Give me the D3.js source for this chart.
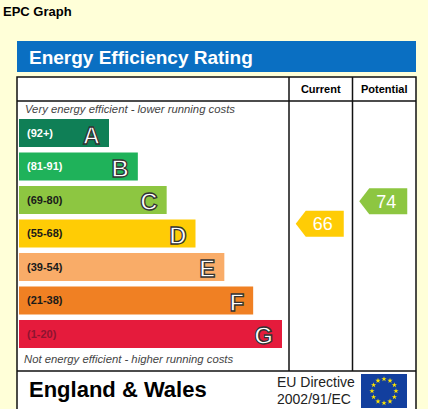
<!DOCTYPE html>
<html>
<head>
<meta charset="utf-8">
<script src="https://cdn.jsdelivr.net/npm/d3@7"></script>
<style>
  html, body { margin: 0; padding: 0; background: #ffffd8; }
  svg { display: block; font-family: Arial, "Liberation Sans", sans-serif; }
</style>
</head>
<body>
<div id="chart"></div>
<script>
const ratingBands = ['A', 'B', 'C', 'D', 'E', 'F', 'G'];
const bandLabels = ['(92+)', '(81-91)', '(69-80)', '(55-68)', '(39-54)', '(21-38)', '(1-20)'];
const bandMin = [92, 81, 69, 55, 39, 21, 1];
const bandMax = [100, 91, 80, 68, 54, 38, 20];
const columns = ['Current', 'Potential'];
const ratings = [66, 74];

const width = 428;
const height = 409;
const table = { left: 17, right: 416, top: 77, headBottom: 101, footTop: 371, colStart: 289 };

const svg = d3.select('#chart')
    .append('svg')
    .attr('width', width)
    .attr('height', height);

// scales
const yScale = d3.scaleBand()
    .domain(ratingBands)
    .range([119, 348])
    .paddingInner(0.164)
    .paddingOuter(0);

const barLength = d3.scaleLinear()
    .domain([0, ratingBands.length - 1])
    .range([90, 263]);

const colour = d3.scaleOrdinal()
    .domain(ratingBands)
    .range(['#0f7f56', '#1fb25a', '#8dc641', '#ffcc05', '#f9ac68', '#f08023', '#e51b3c']);

const labelColour = d3.scaleOrdinal()
    .domain(ratingBands)
    .range(['#ffffff', '#ffffff', '#1a1a1a', '#1a1a1a', '#1a1a1a', '#1a1a1a', '#8e1430']);

const xCol = d3.scaleBand()
    .domain(columns)
    .range([table.colStart, table.right]);

// title
svg.append('text')
    .attr('x', 3).attr('y', 16)
    .style('font-size', '13px').style('font-weight', 'bold')
    .text('EPC Graph');

svg.append('rect')
    .attr('x', table.left).attr('y', 41)
    .attr('width', table.right - table.left).attr('height', 31)
    .attr('fill', '#0a6fc2');

svg.append('text')
    .attr('x', 29).attr('y', 64)
    .attr('fill', '#fff')
    .style('font-size', '19px').style('font-weight', 'bold')
    .text('Energy Efficiency Rating');

// table frame
svg.append('rect')
    .attr('x', table.left).attr('y', table.top)
    .attr('width', table.right - table.left).attr('height', height + 5 - table.top)
    .attr('fill', '#fff')
    .attr('stroke', '#111').attr('stroke-width', 1.5);

svg.append('line')
    .attr('x1', table.left).attr('x2', table.right)
    .attr('y1', table.headBottom).attr('y2', table.headBottom)
    .attr('stroke', '#111').attr('stroke-width', 1.5);

svg.append('line')
    .attr('x1', table.left).attr('x2', table.right)
    .attr('y1', table.footTop).attr('y2', table.footTop)
    .attr('stroke', '#111').attr('stroke-width', 1.5);

svg.selectAll('.colline')
    .data(columns)
    .join('line')
    .attr('class', 'colline')
    .attr('x1', (d) => xCol(d)).attr('x2', (d) => xCol(d))
    .attr('y1', table.top).attr('y2', table.footTop)
    .attr('stroke', '#111').attr('stroke-width', 1.5);

svg.selectAll('.colhead')
    .data(columns)
    .join('text')
    .attr('class', 'colhead')
    .attr('x', (d) => xCol(d) + xCol.bandwidth() / 2)
    .attr('y', 93)
    .attr('text-anchor', 'middle')
    .style('font-size', '11px').style('font-weight', 'bold')
    .text((d) => d);

// italic captions
svg.append('text')
    .attr('x', 25).attr('y', 113)
    .attr('fill', '#444')
    .style('font-size', '11.3px').style('font-style', 'italic')
    .text('Very energy efficient - lower running costs');

svg.append('text')
    .attr('x', 24).attr('y', 363)
    .attr('fill', '#444')
    .style('font-size', '11.3px').style('font-style', 'italic')
    .text('Not energy efficient - higher running costs');

// bars
const bars = svg.append('g').attr('class', 'bars')
    .selectAll('g')
    .data(ratingBands)
    .join('g')
    .attr('transform', (d) => `translate(19, ${yScale(d)})`);

bars.append('rect')
    .attr('width', (d, i) => barLength(i))
    .attr('height', yScale.bandwidth())
    .attr('fill', (d) => colour(d));

bars.append('text')
    .attr('x', 8)
    .attr('y', yScale.bandwidth() / 2 + 4)
    .attr('fill', (d) => labelColour(d))
    .style('font-size', '11px').style('font-weight', 'bold')
    .text((d, i) => bandLabels[i]);

bars.append('text')
    .attr('x', (d, i) => barLength(i) - 9)
    .attr('y', yScale.bandwidth() / 2 + 10.5)
    .attr('text-anchor', 'end')
    .attr('fill', '#fff')
    .attr('stroke', '#333').attr('stroke-width', 1.3)
    .style('font-size', '24px').style('font-weight', 'bold')
    .text((d) => d);

// rating arrows
function bandOf(v) {
    return ratingBands.find((b, i) => v >= bandMin[i] && v <= bandMax[i]);
}

function arrowY(v) {
    const b = bandOf(v);
    const i = ratingBands.indexOf(b);
    const frac = (bandMax[i] - v) / (bandMax[i] - bandMin[i]);
    return yScale(b) + frac * yScale.bandwidth();
}

const arrowH = 26;
const arrows = svg.append('g').attr('class', 'arrows')
    .selectAll('g')
    .data(ratings.map((v, i) => ({ col: columns[i], value: v })))
    .join('g')
    .attr('transform', (d) => `translate(${xCol(d.col) + xCol.bandwidth() / 2 - 1}, ${arrowY(d.value)})`);

arrows.append('path')
    .attr('d', `M-24,0 L-14,${-arrowH / 2} L24,${-arrowH / 2} L24,${arrowH / 2} L-14,${arrowH / 2} Z`)
    .attr('fill', (d) => colour(bandOf(d.value)));

arrows.append('text')
    .attr('x', 3).attr('y', 6.5)
    .attr('text-anchor', 'middle')
    .attr('fill', '#fff')
    .style('font-size', '18px')
    .text((d) => d.value);

// footer
svg.append('text')
    .attr('x', 29).attr('y', 397)
    .style('font-size', '22px').style('font-weight', 'bold')
    .text('England & Wales');

svg.append('text')
    .attr('x', 277).attr('y', 387)
    .attr('fill', '#222')
    .style('font-size', '14px')
    .text('EU Directive');

svg.append('text')
    .attr('x', 277).attr('y', 404)
    .attr('fill', '#222')
    .style('font-size', '14px')
    .text('2002/91/EC');

const flag = svg.append('g').attr('transform', 'translate(361, 374)');
flag.append('rect').attr('width', 46).attr('height', 34).attr('fill', '#123f9e');
flag.selectAll('path')
    .data(d3.range(12))
    .join('path')
    .attr('d', d3.symbol(d3.symbolStar).size(9))
    .attr('transform', (d) => {
        const a = d / 12 * 2 * Math.PI;
        return `translate(${23 + 12 * Math.cos(a)}, ${17 + 12 * Math.sin(a)})`;
    })
    .attr('fill', '#ffe500');
</script>
</body>
</html>
